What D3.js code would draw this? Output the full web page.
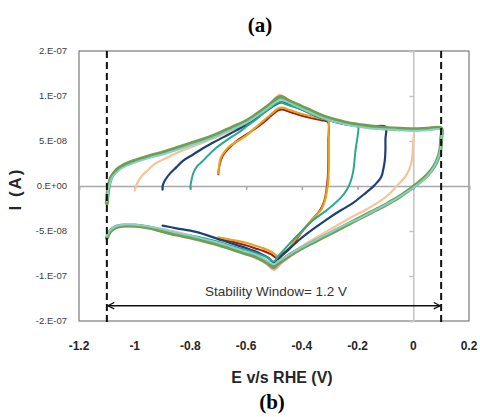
<!DOCTYPE html>
<html>
<head>
<meta charset="utf-8">
<script src="https://cdn.jsdelivr.net/npm/d3@7"></script>
<style>
  body { margin: 0; background: #fff; }
  svg { display: block; }
</style>
</head>
<body>
<div id="chart"></div>
<script>
// potential (V vs RHE), current in units of 1e-9 A
const xTicks = [-1.2, -1, -0.8, -0.6, -0.4, -0.2, 0, 0.2];
const xLabels = ["-1.2", "-1", "-0.8", "-0.6", "-0.4", "-0.2", "0", "0.2"];
const yTicks = [-150, -100, -50, 0, 50, 100, 150];
const yLabels = ["-2.E-07", "-1.E-07", "-5.E-08", "0.E+00", "5.E-08", "1.E-07", "2.E-07"];
const windowEdges = [-1.1, 0.1];
const windowText = "Stability Window= 1.2 V";

const pink = [[-1.1,-18],[-1.09,3],[-1.06,18],[-1.0,27],[-0.9,36],[-0.8,46],[-0.7,57],[-0.6,71],[-0.52,89],[-0.48,101],[-0.45,96],[-0.4,88],[-0.3,75],[-0.2,68],[-0.1,64.5],[0,63],[0.1,64],
  [0.1,50],[0.09,31],[0.05,11],[0,-1],[-0.1,-21],[-0.2,-37],[-0.3,-53],[-0.4,-70],[-0.47,-85],[-0.5,-93],
  [-0.53,-86],[-0.6,-76],[-0.7,-66],[-0.8,-58],[-0.9,-51],[-1.0,-45],[-1.07,-47],[-1.1,-58]];

const green = [[-1.1,-19],[-1.097,-8],[-1.092,2],[-1.085,9],[-1.075,14],[-1.06,19],[-1.04,23],[-1.0,28],[-0.95,33],[-0.9,37],[-0.85,42],[-0.8,47],[-0.75,52],[-0.7,58],[-0.65,65],[-0.6,72],[-0.56,80],[-0.52,89],[-0.49,97],[-0.475,99],[-0.45,95],[-0.4,88],[-0.35,81],[-0.3,75],[-0.25,71],[-0.2,68],[-0.15,66],[-0.1,64.5],[-0.05,63.5],[0,63],[0.05,63.5],[0.1,64],
  [0.1,52],[0.097,40],[0.09,32],[0.075,22],[0.05,12],[0.025,5],[0,-1],[-0.05,-12],[-0.1,-21],[-0.15,-29],[-0.2,-37],[-0.25,-45],[-0.3,-53],[-0.35,-61],[-0.4,-69],[-0.45,-78],[-0.49,-87],[-0.5,-90],
  [-0.53,-84],[-0.56,-79],[-0.6,-75],[-0.65,-70],[-0.7,-65],[-0.75,-61],[-0.8,-57],[-0.85,-54],[-0.9,-50],[-0.95,-46],[-1.0,-44],[-1.04,-44],[-1.07,-46],[-1.09,-51],[-1.1,-58]];

const cyan = [[-1.1,-17],[-1.095,-5],[-1.088,4],[-1.08,10],[-1.065,15],[-1.045,20],[-1.0,26],[-0.95,31],[-0.9,35],[-0.85,40],[-0.8,45],[-0.75,50],[-0.7,56],[-0.65,63],[-0.6,70],[-0.56,78],[-0.52,87],[-0.49,94],[-0.475,96],[-0.45,93],[-0.4,86],[-0.35,79],[-0.3,73],[-0.25,69],[-0.2,66],[-0.15,64],[-0.1,63],[-0.05,62],[0,61.5],[0.05,62],[0.1,62.5],
  [0.1,50],[0.096,38],[0.088,30],[0.072,20],[0.05,11],[0.025,4],[0,-2],[-0.05,-12],[-0.1,-21],[-0.15,-29],[-0.2,-37],[-0.25,-44],[-0.3,-52],[-0.35,-60],[-0.4,-68],[-0.45,-77],[-0.49,-85],[-0.5,-87],
  [-0.53,-82],[-0.56,-77],[-0.6,-73],[-0.65,-68],[-0.7,-63],[-0.75,-59],[-0.8,-55],[-0.85,-52],[-0.9,-48],[-0.95,-45],[-1.0,-43],[-1.04,-43],[-1.07,-45],[-1.09,-50],[-1.1,-56]];

const peach = [[-1.0,-5],[-0.995,0],[-0.99,4],[-0.975,11],[-0.955,17],[-0.93,24],[-0.88,32],[-0.84,38],[-0.79,44],[-0.75,49],[-0.7,55],[-0.65,62],[-0.6,69],[-0.56,77],[-0.52,87],[-0.49,94],[-0.475,96],[-0.45,93],[-0.4,86],[-0.35,79],[-0.3,73],[-0.25,69],[-0.2,66],[-0.15,64],[-0.1,63],[-0.05,62],[0,62],
  [0,50],[-0.002,40],[-0.005,29],[-0.015,18],[-0.03,10],[-0.05,3],[-0.065,-2],[-0.09,-10],[-0.13,-19],[-0.18,-28],[-0.23,-36],[-0.28,-45],[-0.33,-54],[-0.38,-63],[-0.43,-73],[-0.48,-83],[-0.5,-87],
  [-0.53,-82],[-0.56,-77],[-0.6,-73],[-0.65,-68],[-0.7,-63],[-0.75,-59],[-0.8,-55],[-0.85,-51],[-0.9,-48],[-0.95,-45],[-1.0,-44]];

const navy = [[-0.9,-4],[-0.899,1],[-0.89,7],[-0.873,14],[-0.85,21],[-0.827,28],[-0.79,35],[-0.755,42],[-0.72,48],[-0.683,54],[-0.64,61],[-0.6,68],[-0.56,76],[-0.525,84],[-0.49,91],[-0.475,93],[-0.45,91],[-0.4,85],[-0.35,78],[-0.3,73],[-0.25,69],[-0.2,67],[-0.15,66],[-0.1,66],
  [-0.1,52],[-0.1,40],[-0.102,29],[-0.108,18],[-0.115,10],[-0.13,4],[-0.145,-1],[-0.18,-10],[-0.217,-19],[-0.26,-27],[-0.31,-37],[-0.36,-48],[-0.41,-60],[-0.45,-71],[-0.49,-82],[-0.5,-85],
  [-0.52,-80],[-0.55,-75],[-0.6,-69],[-0.66,-63],[-0.7,-59],[-0.78,-51],[-0.85,-47],[-0.9,-44]];

const teal = [[-0.8,-3],[-0.799,2],[-0.795,8],[-0.79,14],[-0.776,22],[-0.755,28],[-0.73,36],[-0.705,43],[-0.66,53],[-0.62,61],[-0.6,66],[-0.56,75],[-0.53,83],[-0.504,89],[-0.48,93],[-0.45,90],[-0.4,85],[-0.35,78],[-0.3,73],[-0.25,70],[-0.2,68],
  [-0.2,55],[-0.205,45],[-0.209,35],[-0.213,22],[-0.217,14],[-0.225,5],[-0.238,-4],[-0.26,-13],[-0.288,-21],[-0.32,-29],[-0.36,-38],[-0.4,-50],[-0.45,-66],[-0.49,-80],[-0.5,-84],
  [-0.52,-80],[-0.56,-75],[-0.6,-71],[-0.65,-67],[-0.7,-62],[-0.75,-58],[-0.8,-55]];

const darkRed = [[-0.7,13],[-0.695,24],[-0.685,33],[-0.665,41],[-0.63,51],[-0.6,57],[-0.57,63],[-0.54,70],[-0.51,78],[-0.485,84],[-0.47,85],[-0.44,82],[-0.4,78],[-0.36,75],[-0.33,73],[-0.306,71],
  [-0.305,50],[-0.305,30],[-0.307,10],[-0.312,-5],[-0.32,-17],[-0.335,-27],[-0.365,-38],[-0.4,-51],[-0.445,-70],[-0.47,-77],[-0.486,-81],
  [-0.51,-76],[-0.54,-72],[-0.56,-70],[-0.6,-66],[-0.65,-62],[-0.7,-59]];

const orange = [[-0.7,14],[-0.698,20],[-0.695,26],[-0.69,32],[-0.675,39],[-0.66,44],[-0.63,50],[-0.6,56],[-0.57,64],[-0.54,72],[-0.51,80],[-0.485,86],[-0.47,87],[-0.44,84],[-0.4,80],[-0.36,77],[-0.33,75],[-0.306,73],
  [-0.304,60],[-0.303,45],[-0.303,30],[-0.304,15],[-0.306,3],[-0.31,-5],[-0.317,-16],[-0.33,-26],[-0.36,-36],[-0.396,-49],[-0.42,-58],[-0.443,-68],[-0.47,-75],[-0.486,-78],
  [-0.51,-73],[-0.54,-69],[-0.56,-67],[-0.6,-63],[-0.65,-60],[-0.7,-57]];

const series = [
  {data: pink, color: "#f2a29a", width: 2},
  {data: darkRed, color: "#9b1c1c", width: 2},
  {data: orange, color: "#e6a21c", width: 2.2},
  {data: peach, color: "#f5c49c", width: 2.2},
  {data: navy, color: "#1f3f78", width: 2.2},
  {data: teal, color: "#2aa88e", width: 2},
  {data: green, color: "#6f9f4e", width: 4},
  {data: cyan, color: "#86cfcb", width: 2}
];

const width = 480, height = 417;
const margin = {top: 51, right: 11, bottom: 96, left: 79};

const svg = d3.select("#chart").append("svg")
  .attr("width", width)
  .attr("height", height);

const x = d3.scaleLinear().domain([-1.2, 0.2]).range([margin.left, width - margin.right]);
const y = d3.scaleLinear().domain([-150, 150]).range([height - margin.bottom, margin.top]);

// plot frame
svg.append("rect")
  .attr("x", x(-1.2)).attr("y", y(150))
  .attr("width", x(0.2) - x(-1.2)).attr("height", y(-150) - y(150))
  .attr("fill", "none").attr("stroke", "#7a7a7a").attr("stroke-width", 1.2);

// value axis line at E = 0 with ticks to the left
svg.append("g")
  .attr("transform", `translate(${x(0)},0)`)
  .call(d3.axisLeft(y).tickValues(yTicks).tickSize(4).tickFormat(""))
  .call(g => g.selectAll("line, path").attr("stroke", "#c4c4c4").attr("stroke-width", 1.5));

// category axis line at I = 0 with ticks down
svg.append("g")
  .attr("transform", `translate(0,${y(0)})`)
  .call(d3.axisBottom(x).tickValues(xTicks).tickSize(4).tickFormat(""))
  .call(g => g.selectAll("line, path").attr("stroke", "#a8a8a8").attr("stroke-width", 1.5));

// tick labels (low position)
svg.append("g").selectAll("text")
  .data(yTicks)
  .join("text")
  .attr("x", 67).attr("y", d => y(d))
  .attr("dy", "0.35em")
  .attr("text-anchor", "end")
  .attr("font-family", "Liberation Sans, Arial, sans-serif")
  .attr("font-size", 9.5)
  .attr("fill", "#404040")
  .text((d, i) => yLabels[i]);

svg.append("g").selectAll("text")
  .data(xTicks)
  .join("text")
  .attr("x", d => x(d)).attr("y", 350)
  .attr("text-anchor", "middle")
  .attr("font-family", "Liberation Sans, Arial, sans-serif")
  .attr("font-weight", "bold")
  .attr("font-size", 12)
  .attr("fill", "#262626")
  .text((d, i) => xLabels[i]);

// CV curves
const line = d3.line()
  .x(d => x(d[0]))
  .y(d => y(d[1]))
  .curve(d3.curveCatmullRom.alpha(0.5));

svg.append("g").selectAll("path")
  .data(series)
  .join("path")
  .attr("d", d => line(d.data))
  .attr("fill", "none")
  .attr("stroke", d => d.color)
  .attr("stroke-width", d => d.width)
  .attr("stroke-linejoin", "round")
  .attr("stroke-linecap", "round");

// stability window limits
svg.append("g").selectAll("line")
  .data(windowEdges)
  .join("line")
  .attr("x1", d => x(d)).attr("x2", d => x(d))
  .attr("y1", y(150)).attr("y2", y(-150) + 3)
  .attr("stroke", "#111")
  .attr("stroke-width", 2)
  .attr("stroke-dasharray", "7,4");

// double arrow
const defs = svg.append("defs");
defs.append("marker")
  .attr("id", "arrow")
  .attr("viewBox", "0 0 10 10")
  .attr("refX", 9).attr("refY", 5)
  .attr("markerWidth", 8).attr("markerHeight", 8)
  .attr("markerUnits", "userSpaceOnUse")
  .attr("orient", "auto-start-reverse")
  .append("path")
  .attr("d", "M1,1 L9,5 L1,9")
  .attr("fill", "none")
  .attr("stroke", "#111")
  .attr("stroke-width", 1.6);

svg.append("line")
  .attr("x1", x(windowEdges[0]) + 1).attr("x2", x(windowEdges[1]) - 1)
  .attr("y1", y(-133)).attr("y2", y(-133))
  .attr("stroke", "#111")
  .attr("stroke-width", 1.5)
  .attr("marker-start", "url(#arrow)")
  .attr("marker-end", "url(#arrow)");

svg.append("text")
  .attr("x", 276).attr("y", 296)
  .attr("text-anchor", "middle")
  .attr("font-family", "Liberation Sans, Arial, sans-serif")
  .attr("font-size", 13.5)
  .attr("fill", "#333")
  .text(windowText);

// axis titles
svg.append("text")
  .attr("x", 282).attr("y", 383)
  .attr("text-anchor", "middle")
  .attr("font-family", "Liberation Sans, Arial, sans-serif")
  .attr("font-weight", "bold")
  .attr("font-size", 16)
  .attr("fill", "#262626")
  .text("E v/s RHE (V)");

svg.append("text")
  .attr("transform", "translate(21,189) rotate(-90)")
  .attr("text-anchor", "middle")
  .attr("font-family", "Liberation Sans, Arial, sans-serif")
  .attr("font-weight", "bold")
  .attr("font-size", 17)
  .attr("letter-spacing", 2)
  .attr("fill", "#262626")
  .text("I (A)");

// panel letters
svg.append("text")
  .attr("x", 260).attr("y", 32)
  .attr("text-anchor", "middle")
  .attr("font-family", "Liberation Serif, Times New Roman, serif")
  .attr("font-weight", "bold")
  .attr("font-size", 21)
  .attr("fill", "#000")
  .text("(a)");

svg.append("text")
  .attr("x", 272).attr("y", 409)
  .attr("text-anchor", "middle")
  .attr("font-family", "Liberation Serif, Times New Roman, serif")
  .attr("font-weight", "bold")
  .attr("font-size", 21)
  .attr("fill", "#000")
  .text("(b)");
</script>
</body>
</html>
